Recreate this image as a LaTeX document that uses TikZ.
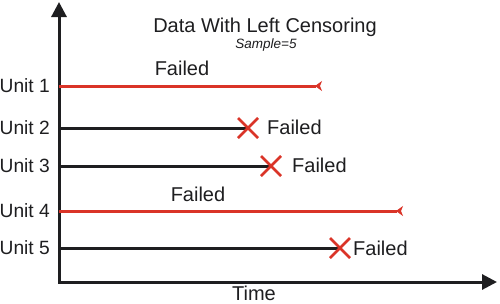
\documentclass[tikz,border=0pt]{standalone}
\usepackage{fontspec}
\setmainfont{Liberation Sans}
\usetikzlibrary{arrows.meta}
\definecolor{cred}{RGB}{218,52,40}
\definecolor{ctext}{RGB}{30,30,32}
\begin{document}
\begin{tikzpicture}[x=1pt,y=-1pt,
  lbl/.style={inner sep=0pt,text=ctext,font=\fontsize{20}{24}\selectfont},
  ulbl/.style={inner sep=0pt,text=ctext,font=\fontsize{19.2}{23}\selectfont,anchor=east},
  axis/.style={line width=3pt,draw=ctext,{Triangle[length=15pt,width=15pt]}-{Triangle[length=15pt,width=15pt]}},
  cens/.style={line width=3pt,draw=cred,-{Stealth[reversed,length=7pt,width=10pt,inset=2pt]}},
  fail/.style={line width=3pt,draw=ctext},
  xmark/.style={line width=2.6pt,draw=cred}]
\useasboundingbox (0,0) rectangle (500,303);
% axes
\coordinate (top) at (59,2);
\coordinate (orig) at (59,282);
\coordinate (right) at (497,282);
\draw[axis] (top) -- (orig) -- (right);
% title
\node[lbl,anchor=base] (title) at (265,32) {Data With Left Censoring};
\node[inner sep=0pt,text=ctext,anchor=base,font=\fontsize{13.5}{16}\selectfont\itshape] (sample) at (266,48) {Sample=5};
\node[lbl,anchor=base] (time) at (254,300.5) {Time};
% unit labels
\node[ulbl] (u1) at (50,86) {Unit 1};
\node[ulbl] (u2) at (50,128) {Unit 2};
\node[ulbl] (u3) at (50,166) {Unit 3};
\node[ulbl] (u4) at (50,211) {Unit 4};
\node[ulbl] (u5) at (50,248) {Unit 5};
% line start points
\coordinate (s1) at (59,86);
\coordinate (s2) at (59,128);
\coordinate (s3) at (59,166);
\coordinate (s4) at (59,211);
\coordinate (s5) at (59,248);
% ends
\coordinate (e1) at (322,86);
\coordinate (e2) at (248,128);
\coordinate (e3) at (271,166);
\coordinate (e4) at (403,211);
\coordinate (e5) at (340,248);
% lines
\draw[cens] (s1) -- (e1);
\draw[fail] (s2) -- (e2);
\draw[fail] (s3) -- (e3);
\draw[cens] (s4) -- (e4);
\draw[fail] (s5) -- (e5);
% X marks
\foreach \e in {e2,e3,e5}{
  \draw[xmark] ([shift={(-10,-10)}]\e) -- ([shift={(10,10)}]\e);
  \draw[xmark] ([shift={(-10,10)}]\e) -- ([shift={(10,-10)}]\e);
}
% Failed labels
\node[lbl] (f1) at (182,68) {Failed};
\node[lbl,anchor=west] (f2) at (267,127) {Failed};
\node[lbl,anchor=west] (f3) at (292,165) {Failed};
\node[lbl] (f4) at (198,194) {Failed};
\node[lbl,anchor=west] (f5) at (353,248) {Failed};
\end{tikzpicture}
\end{document}
